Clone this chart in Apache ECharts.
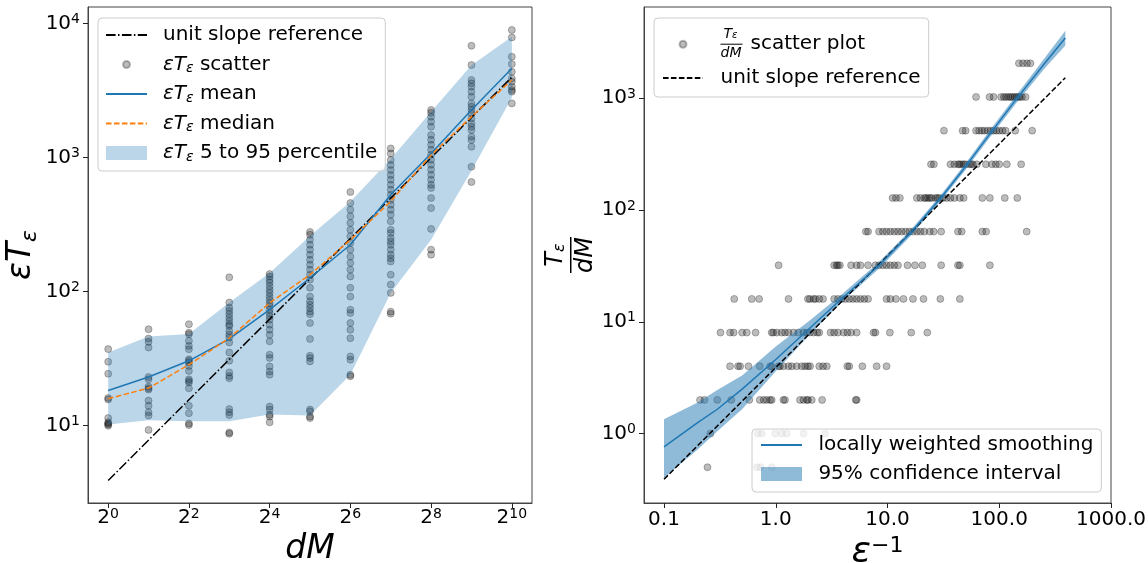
<!DOCTYPE html>
<html>
<head>
<meta charset="utf-8">
<script src="https://cdn.jsdelivr.net/npm/echarts@6/dist/echarts.min.js"></script>
<style>
  html, body { margin: 0; padding: 0; background: #fff; }
  #main { width: 1148px; height: 563px; }
</style>
</head>
<body>
<div id="main"></div>
<script>
const FONT = 'DejaVu Sans';

// ---- left panel: eps*T_eps against dM ----
const dM = [1, 2, 4, 8, 16, 32, 64, 128, 256, 512, 1024];
const col0 = [37.3, 30, 24.4, 16.1, 15.7, 11.4, 10.6, 10.4, 10.2, 10.0];
const col1 = [52.5, 44.7, 42.2, 38.3, 23.1, 22.2, 19.6, 19.0, 18.6, 15.4, 14.1, 12.6, 11.9, 9.3];
const col2 = [57.2, 49.5, 48.2, 43, 39.4, 37.2, 31.3, 30.5, 29.6, 27.9, 25.6, 22.2, 21.6, 21, 19, 14.1, 12.4, 10.4, 10.1];
const col3 = [128, 83, 76, 72, 68, 64, 60.5, 57, 55.5, 51, 48, 45.5, 41.8, 35.2, 30.5, 25, 23.5, 22.6, 13.3, 12.6, 12, 8.9, 8.7];
const col4 = [135.5, 130, 123, 117, 110, 103.5, 98, 92, 87, 82, 78, 73.4, 69.3, 65.5, 61.8, 56.7, 52, 47.7, 42.6, 33.9, 32, 27.7, 25.4, 24, 13.9, 13.2, 12.1, 11.7, 10.6];
const col5 = [279, 266, 244, 224, 206, 189, 173, 159, 146, 134, 123, 107, 92, 85, 80, 75.5, 71, 68, 58.4, 44.4, 33.3, 32, 30.2, 13.2, 12.8, 11.7, 11.4];
const col6 = [555, 459, 409, 365, 326, 290, 259, 231, 206, 183, 164, 146, 130, 107, 92, 73.4, 69.3, 58.4, 52, 45, 32.9, 31.1, 24, 23.4];
const col7 = [1173, 1076, 961, 883, 810, 743, 686, 629, 577, 530, 486, 446, 409, 376, 335, 290, 274, 252, 237, 224, 206, 189, 178, 168, 134, 113, 98, 71, 68.5];
const col8 = [2270, 2168, 2024, 1857, 1703, 1477, 1362, 1250, 1147, 1052, 966, 887, 813, 746, 686, 629, 594, 500, 421, 294, 206, 189];
const col9 = [6850, 4920, 3800, 3590, 3390, 3110, 2852, 2544, 2403, 2270, 2142, 1965, 1804, 1703, 1609, 1435, 1356, 1208, 857, 659];
const col10 = [8980, 7900, 5680, 5000, 4380, 3910, 3690, 3390, 3200, 3110, 2544];
const columns = [col0, col1, col2, col3, col4, col5, col6, col7, col8, col9, col10];

const meanLeft = [18.3, 23.1, 30.5, 44.4, 73.4, 126.6, 224, 530, 1076, 2270, 4640];
const medianLeft = [15.9, 19.1, 28.5, 45.1, 82.5, 134, 244, 472, 1047, 2024, 3800];
const p5Left = [10.2, 11, 10.8, 10.8, 12.1, 11.9, 24, 98, 244, 800, 2800];
const p95Left = [35.2, 46.4, 48.3, 83, 138, 260, 470, 980, 2200, 4900, 8000];
const refLeftX = [1, 1024];
const refLeftY = [3.9, 3990];

// ---- right panel: T_eps/dM against 1/eps ----
const rowLevels = [0.5, 1, 2, 4, 8, 16, 32, 64, 128, 256, 512, 1024, 2048];
const row05 = [0.245, 0.68, 0.73, 0.92];
const row1 = [0.26, 0.69, 0.75, 0.99, 1.13, 1.25, 1.77, 2.75];
const row2 = [0.21, 0.23, 0.30, 0.40, 0.58, 0.72, 0.78, 0.83, 0.89, 0.92, 1.17, 1.21, 1.65, 1.77, 1.9, 1.94, 2.1, 2.6, 5.2, 5.3];
const row4 = [0.39, 0.46, 0.48, 0.57, 0.72, 0.89, 0.92, 1.06, 1.09, 1.17, 1.3, 1.39, 1.54, 1.71, 1.83, 1.94, 2.03, 2.45, 2.65, 2.86, 4.37, 4.55, 5.96, 8.0, 9.8];
const row8 = [0.32, 0.39, 0.42, 0.5, 0.55, 0.66, 0.92, 0.95, 1.02, 1.13, 1.21, 1.3, 1.44, 1.59, 1.77, 1.9, 2.02, 2.18, 2.35, 2.45, 3.09, 3.33, 3.6, 4.05, 4.37, 4.72, 5.3, 7.5, 7.8, 10.5, 16.3, 22.7];
const row16 = [0.425, 0.61, 0.71, 1.3, 1.94, 2.02, 2.18, 2.27, 2.45, 2.65, 3.33, 3.6, 3.9, 4.2, 4.55, 4.91, 5.3, 5.73, 6.2, 6.7, 9.8, 10.6, 11.9, 13.9, 16.9, 21, 29.7, 44.4];
const row32 = [1.06, 3.33, 3.5, 3.6, 3.75, 4.72, 5.3, 5.73, 6.7, 7.8, 8.4, 9.1, 9.8, 10.6, 11.5, 12.4, 15.1, 17.6, 20.5, 30.2, 42.7, 44.4, 82.4];
const row64 = [6.4, 6.7, 8.4, 9.1, 9.8, 10.6, 11.5, 12.4, 13.4, 14.5, 15.7, 16.9, 18.3, 19.7, 21.3, 23.9, 25.9, 30.2, 42.7, 46.1, 70.6, 76.3, 176];
const row128 = [11.1, 11.9, 12.9, 18.3, 19.7, 21.3, 22, 23, 24, 24.9, 26.9, 28, 29, 31.4, 33.9, 36.6, 39.6, 44.4, 48, 70.6, 82.4, 112, 145];
const row256 = [24.5, 26, 36.6, 39.6, 42.7, 44, 46, 48, 50, 53.9, 56, 58, 63, 76, 86, 93, 100, 117, 157];
const row512 = [32, 47, 50, 62, 66, 70, 74, 79, 84, 89, 94, 100, 107, 114, 139, 197];
const row1024 = [62, 82, 89, 104, 110, 115, 121, 126, 131, 137, 142, 148, 153, 160, 172];
const row2048 = [150, 163, 177, 190];
const rows = [row05, row1, row2, row4, row8, row16, row32, row64, row128, row256, row512, row1024, row2048];

const refRightX = [0.1, 390];
const refRightY = [0.39, 1520];
const loessX = [0.1, 0.2, 0.3, 0.5, 1.0, 2.0, 4.0, 8.4, 16.5, 30, 50, 80, 140, 250, 390];
const loessY = [0.76, 1.25, 1.65, 2.5, 4.6, 8.7, 16.5, 32, 64, 128, 245, 460, 960, 2000, 3450];
const ciLow = [0.40, 0.72, 1.05, 1.65, 3.6, 7.6, 15.3, 30, 60, 120, 229, 428, 885, 1800, 2950];
const ciHigh = [1.34, 1.9, 2.45, 3.3, 6.0, 10.2, 18, 34.2, 68, 136, 262, 495, 1040, 2230, 4000];

// tick positions
const xTicksLeft = [1, 4, 16, 64, 256, 1024];
const yTicksLeft = [10, 100, 1000, 10000];
const xTicksRight = [0.1, 1, 10, 100, 1000];
const yTicksRight = [1, 10, 100, 1000];

const BLUE = '#1f77b4';
const ORANGE = '#ff7f0e';
const DOT = 'rgba(0,0,0,0.33)';
// small circle inside a larger empty box so the legend dot keeps the marker size
const DOT_ICON = 'path://M0,0M14,14M3.5,7A3.5,3.5,0,1,0,10.5,7A3.5,3.5,0,1,0,3.5,7Z';

const chart = echarts.init(document.getElementById('main'), null, { renderer: 'canvas' });

const tickRich = {
  b: { fontSize: 20, fontFamily: FONT, color: '#000', lineHeight: 22 },
  p: { fontSize: 14, fontFamily: FONT, color: '#000', lineHeight: 14, verticalAlign: 'top' }
};

function logAxis(gridIndex, base, min, max, ticks, formatter, extra) {
  return Object.assign({
    type: 'log',
    logBase: base,
    gridIndex: gridIndex,
    min: min,
    max: max,
    axisLine: { show: true, lineStyle: { color: '#444', width: 1 } },
    axisTick: { show: true, length: 5, customValues: ticks, lineStyle: { color: '#222', width: 1 } },
    axisLabel: { customValues: ticks, formatter: formatter, rich: tickRich, fontSize: 20, fontFamily: FONT, color: '#000' },
    splitLine: { show: false },
    minorTick: { show: false }
  }, extra);
}

function bandRenderer(xs, lo, hi, fill) {
  return function (params, api) {
    if (params.dataIndex !== 0) return null;
    const pts = [];
    for (let i = 0; i < xs.length; i++) pts.push(api.coord([xs[i], hi[i]]));
    for (let i = xs.length - 1; i >= 0; i--) pts.push(api.coord([xs[i], lo[i]]));
    return { type: 'polygon', shape: { points: pts }, style: { fill: fill } };
  };
}

const leftScatter = [];
columns.forEach(function (col, i) { col.forEach(function (v) { leftScatter.push([dM[i], v]); }); });
const rightScatter = [];
rows.forEach(function (r, i) { r.forEach(function (x) { rightScatter.push([x, rowLevels[i]]); }); });

const legendRich = {
  t: { fontSize: 20, fontFamily: FONT, color: '#000', lineHeight: 22 },
  i: { fontSize: 20, fontFamily: FONT, color: '#000', lineHeight: 22, fontStyle: 'italic' },
  s: { fontSize: 14, fontFamily: FONT, color: '#000', lineHeight: 13, fontStyle: 'italic', verticalAlign: 'bottom' },
  fn: { fontSize: 14, fontFamily: FONT, color: '#000', lineHeight: 11, fontStyle: 'italic', padding: [0, 0, 0, 3] },
  fs: { fontSize: 10, fontFamily: FONT, color: '#000', lineHeight: 8, fontStyle: 'italic', verticalAlign: 'bottom' },
  bar: { width: 22, height: 1, lineHeight: 8, backgroundColor: '#000' },
  fd: { fontSize: 14, fontFamily: FONT, color: '#000', lineHeight: 11, fontStyle: 'italic' },
  tp: { fontSize: 20, fontFamily: FONT, color: '#000', lineHeight: 8, padding: [0, 0, 0, 8] }
};

const legendLabels = {
  'ref': 'unit slope reference',
  'scatterL': '{i|εT}{s|ε}{t| scatter}',
  'mean': '{i|εT}{s|ε}{t| mean}',
  'median': '{i|εT}{s|ε}{t| median}',
  'band': '{i|εT}{s|ε}{t| 5 to 95 percentile}',
  'scatterR': '{fn|T}{fs|ε}\n{bar| }{tp|scatter plot}\n{fd|dM}',
  'refR': 'unit slope reference',
  'loess': 'locally weighted smoothing',
  'ci': '95% confidence interval'
};

function legendBox(extra) {
  return Object.assign({
    orient: 'vertical',
    itemWidth: 41,
    itemHeight: 14,
    backgroundColor: 'rgba(255,255,255,0.8)',
    borderColor: '#cccccc',
    borderWidth: 1,
    borderRadius: 4,
    selectedMode: false,
    formatter: function (name) { return legendLabels[name]; },
    textStyle: { fontSize: 20, fontFamily: FONT, color: '#000', lineHeight: 22, rich: legendRich }
  }, extra);
}

// legend entries for plain lines: hide the marker dot, keep the line
function lineEntry(name, pad) {
  return { name: name, itemStyle: { opacity: 0 }, textStyle: { padding: [0, 0, 0, pad] } };
}

const option = {
  backgroundColor: '#fff',
  animation: false,
  grid: [
    { left: 88, top: 7, width: 444, height: 496, show: true, borderColor: '#444', borderWidth: 1, outerBoundsMode: 'none' },
    { left: 644, top: 7, width: 467, height: 496, show: true, borderColor: '#444', borderWidth: 1, outerBoundsMode: 'none' }
  ],
  xAxis: [
    logAxis(0, 2, Math.pow(2, -0.5), Math.pow(2, 10.5), xTicksLeft,
      function (v) { return '{b|2}{p|' + Math.round(Math.log2(v)) + '}'; },
      { axisLabel: { customValues: xTicksLeft, margin: 4, rich: tickRich,
          formatter: function (v) { return '{b|2}{p|' + Math.round(Math.log2(v)) + '}'; } },
        name: '{i|dM}', nameLocation: 'middle', nameGap: 28,
        nameTextStyle: { rich: { i: { fontSize: 33, fontFamily: FONT, fontStyle: 'italic', color: '#000', lineHeight: 36 } } } }),
    logAxis(1, 10, Math.pow(10, -1.179), 1000, xTicksRight,
      function (v) { return v < 1 ? '0.1' : v.toFixed(1); },
      { axisLabel: { customValues: xTicksRight, margin: 7, fontSize: 20, fontFamily: FONT, color: '#000',
          formatter: function (v) { return v < 1 ? '0.1' : v.toFixed(1); } },
        name: '{i|ε}{p|−1}', nameLocation: 'middle', nameGap: 22,
        nameTextStyle: { rich: {
          i: { fontSize: 36, fontFamily: FONT, fontStyle: 'italic', color: '#000', lineHeight: 36 },
          p: { fontSize: 22, fontFamily: FONT, color: '#000', lineHeight: 22, verticalAlign: 'top' } } } })
  ],
  yAxis: [
    logAxis(0, 10, Math.pow(10, 0.423), Math.pow(10, 4.125), yTicksLeft,
      function (v) { return '{b|10}{p|' + Math.round(Math.log10(v)) + '}'; },
      { name: '{i|εT}{s|ε}', nameLocation: 'middle', nameGap: 32, nameRotate: 90,
        nameTextStyle: { rich: {
          i: { fontSize: 33, fontFamily: FONT, fontStyle: 'italic', color: '#000', lineHeight: 40 },
          s: { fontSize: 22, fontFamily: FONT, fontStyle: 'italic', color: '#000', lineHeight: 18, verticalAlign: 'bottom' } } } }),
    logAxis(1, 10, Math.pow(10, -0.621), Math.pow(10, 3.815), yTicksRight,
      function (v) { return '{b|10}{p|' + Math.round(Math.log10(v)) + '}'; },
      { name: '{n|T}{s|ε}\n{bar| }\n{d|dM}', nameLocation: 'middle', nameGap: 41, nameRotate: 90,
        nameTextStyle: { align: 'center', rich: {
          n: { fontSize: 24, fontFamily: FONT, fontStyle: 'italic', color: '#000', lineHeight: 24 },
          s: { fontSize: 16, fontFamily: FONT, fontStyle: 'italic', color: '#000', lineHeight: 16, verticalAlign: 'bottom' },
          bar: { width: 36, height: 1.5, backgroundColor: '#000', lineHeight: 6 },
          d: { fontSize: 24, fontFamily: FONT, fontStyle: 'italic', color: '#000', lineHeight: 24 } } } })
  ],
  legend: [
    legendBox({ left: 98, top: 18, padding: [6, 8, 7, 7], itemGap: 7.5,
      data: [
        lineEntry('ref', 11),
        { name: 'scatterL', icon: DOT_ICON, textStyle: { padding: [0, 0, 0, 11] } },
        lineEntry('mean', 11),
        lineEntry('median', 11),
        { name: 'band', icon: 'rect', textStyle: { padding: [0, 0, 0, 11] } }
      ] }),
    legendBox({ left: 654, top: 18, padding: [9.7, 8, 8, 8], itemGap: 6.3, itemWidth: 40,
      data: [
        { name: 'scatterR', icon: DOT_ICON, textStyle: { padding: [0, 0, 0, 12.5] } },
        lineEntry('refR', 12.5)
      ] }),
    legendBox({ left: 752, top: 429, padding: [5, 8, 7, 8], itemGap: 7,
      data: [
        lineEntry('loess', 11.4),
        { name: 'ci', icon: 'rect', textStyle: { padding: [0, 0, 0, 11.4] } }
      ] })
  ],
  series: [
    { name: 'scatterL', type: 'scatter', xAxisIndex: 0, yAxisIndex: 0, z: 1, silent: true,
      symbol: 'circle', symbolSize: 7, data: leftScatter,
      itemStyle: { color: DOT, borderColor: DOT, borderWidth: 1 } },
    { name: 'band', type: 'custom', coordinateSystem: 'cartesian2d', xAxisIndex: 0, yAxisIndex: 0, z: 2, silent: true,
      itemStyle: { color: 'rgba(31,119,180,0.3)' },
      data: dM.map(function (x, i) { return [x, p5Left[i], p95Left[i]]; }),
      encode: { x: 0, y: [1, 2] },
      renderItem: bandRenderer(dM, p5Left, p95Left, 'rgba(31,119,180,0.3)') },
    { name: 'ref', type: 'line', xAxisIndex: 0, yAxisIndex: 0, z: 3, silent: true, symbol: 'none',
      data: refLeftX.map(function (x, i) { return [x, refLeftY[i]]; }),
      lineStyle: { color: '#000', width: 1.5, type: [9.6, 2.4, 1.5, 2.4] }, itemStyle: { color: '#000' } },
    { name: 'mean', type: 'line', xAxisIndex: 0, yAxisIndex: 0, z: 3, silent: true, symbol: 'none',
      data: dM.map(function (x, i) { return [x, meanLeft[i]]; }),
      lineStyle: { color: BLUE, width: 1.5 }, itemStyle: { color: BLUE } },
    { name: 'median', type: 'line', xAxisIndex: 0, yAxisIndex: 0, z: 3, silent: true, symbol: 'none',
      data: dM.map(function (x, i) { return [x, medianLeft[i]]; }),
      lineStyle: { color: ORANGE, width: 1.5, type: [5.55, 2.4] }, itemStyle: { color: ORANGE } },

    { name: 'scatterR', type: 'scatter', xAxisIndex: 1, yAxisIndex: 1, z: 1, silent: true,
      symbol: 'circle', symbolSize: 7, data: rightScatter,
      itemStyle: { color: DOT, borderColor: DOT, borderWidth: 1 } },
    { name: 'ci', type: 'custom', coordinateSystem: 'cartesian2d', xAxisIndex: 1, yAxisIndex: 1, z: 2, silent: true,
      itemStyle: { color: 'rgba(31,119,180,0.5)' },
      data: loessX.map(function (x, i) { return [x, ciLow[i], ciHigh[i]]; }),
      encode: { x: 0, y: [1, 2] },
      renderItem: bandRenderer(loessX, ciLow, ciHigh, 'rgba(31,119,180,0.5)') },
    { name: 'refR', type: 'line', xAxisIndex: 1, yAxisIndex: 1, z: 3, silent: true, symbol: 'none',
      data: refRightX.map(function (x, i) { return [x, refRightY[i]]; }),
      lineStyle: { color: '#000', width: 1.5, type: [5.55, 2.4] }, itemStyle: { color: '#000' } },
    { name: 'loess', type: 'line', xAxisIndex: 1, yAxisIndex: 1, z: 4, silent: true, symbol: 'none',
      data: loessX.map(function (x, i) { return [x, loessY[i]]; }),
      lineStyle: { color: BLUE, width: 1.5 }, itemStyle: { color: BLUE } }
  ]
};

chart.setOption(option);
</script>
</body>
</html>
